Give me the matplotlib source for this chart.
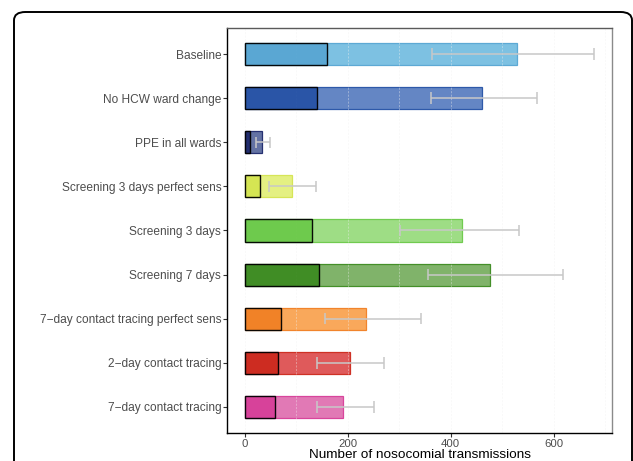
import matplotlib
matplotlib.use("Agg")
import matplotlib.pyplot as plt
from matplotlib.patches import FancyBboxPatch

plt.rcParams['font.family'] = ['Liberation Sans', 'DejaVu Sans']

# Interventions, listed top to bottom
scenarios = [
    "Baseline",
    "No HCW ward change",
    "PPE in all wards",
    "Screening 3 days perfect sens",
    "Screening 3 days",
    "Screening 7 days",
    "7\u2212day contact tracing perfect sens",
    "2\u2212day contact tracing",
    "7\u2212day contact tracing",
]

# Total transmissions (full bar) and the HCW-related part (outlined bar)
total = [529, 461, 34, 92, 422, 476, 235, 205, 191]
subset = [160, 141, 11, 30, 130, 145, 70, 64, 59]
# Interval around the total
err_low = [364, 361, 22, 48, 301, 356, 157, 140, 140]
err_high = [679, 568, 50, 138, 532, 617, 343, 271, 251]

dark_colors = ["#58A6D3", "#2753A6", "#1F2A6C", "#D5E551", "#6CC94A",
               "#3D8B22", "#F18025", "#CD2A1E", "#D73F99"]
light_colors = ["#76BEE1", "#5C80C1", "#5B6A9E", "#E3F07B", "#99DC7F",
                "#79AF62", "#F9A352", "#DE5152", "#E072B1"]

W, H = 633, 461
fig = plt.figure(figsize=(W / 100, H / 100), dpi=100)
ax = fig.add_axes([227 / W, 1 - 433 / H, 385 / W, 405 / H])

n = len(scenarios)
ypos = [n - i for i in range(n)]
h = 0.5

# faint vertical grid
for gx in range(0, 701, 100):
    ax.axvline(gx, color="#F0F0F0", lw=0.5, ls=(0, (3, 2)), zorder=2,
               alpha=0.55)

for y, t, s, c_d, c_l in zip(ypos, total, subset, dark_colors, light_colors):
    ax.barh(y, t, height=h, color=c_l, edgecolor=c_d, linewidth=0.9,
            alpha=0.95, zorder=1)
    ax.barh(y, s, height=h, color=c_d, edgecolor="black", linewidth=1.0,
            alpha=0.95, zorder=3)

for y, lo, hi in zip(ypos, err_low, err_high):
    ax.plot([lo, hi], [y, y], color="#C8C8C8", lw=1.1, zorder=4,
            solid_capstyle="butt")
    for xv in (lo, hi):
        ax.plot([xv, xv], [y - 0.135, y + 0.135], color="#C8C8C8", lw=1.1,
                zorder=4, solid_capstyle="butt")

ax.set_xlim(-34, 713)
ax.set_ylim(0.4, n + 0.6)
ax.set_yticks(ypos)
ax.set_yticklabels(scenarios)
ax.set_xticks([0, 200, 400, 600])
ax.tick_params(axis="both", labelcolor="#4D4D4D", color="#333333",
               length=3, width=0.8)
ax.tick_params(axis="y", labelsize=8.6, pad=1.2)
ax.tick_params(axis="x", labelsize=8.2, pad=1)

# axis title placed on its own baseline just under the tick labels
fig.text((227 + 612) / 2 / W, (H - 458) / H,
         "Number of nosocomial transmissions", fontsize=9.7,
         color="black", ha="center", va="baseline")

ax.spines["left"].set_color("black")
ax.spines["bottom"].set_color("black")
ax.spines["top"].set_color("#5A5A5A")
ax.spines["right"].set_color("#8A8A8A")
for sp in ax.spines.values():
    sp.set_linewidth(1.0)

# rounded outer frame, open past the bottom edge
frame = FancyBboxPatch((14 / W, -40 / H), (632 - 14) / W, (H - 12 + 40) / H,
                       boxstyle="round,pad=0,rounding_size=0.018",
                       transform=fig.transFigure, fill=False,
                       edgecolor="black", linewidth=1.4, clip_on=False)
fig.patches.append(frame)

fig.savefig("out.png", dpi=100)
